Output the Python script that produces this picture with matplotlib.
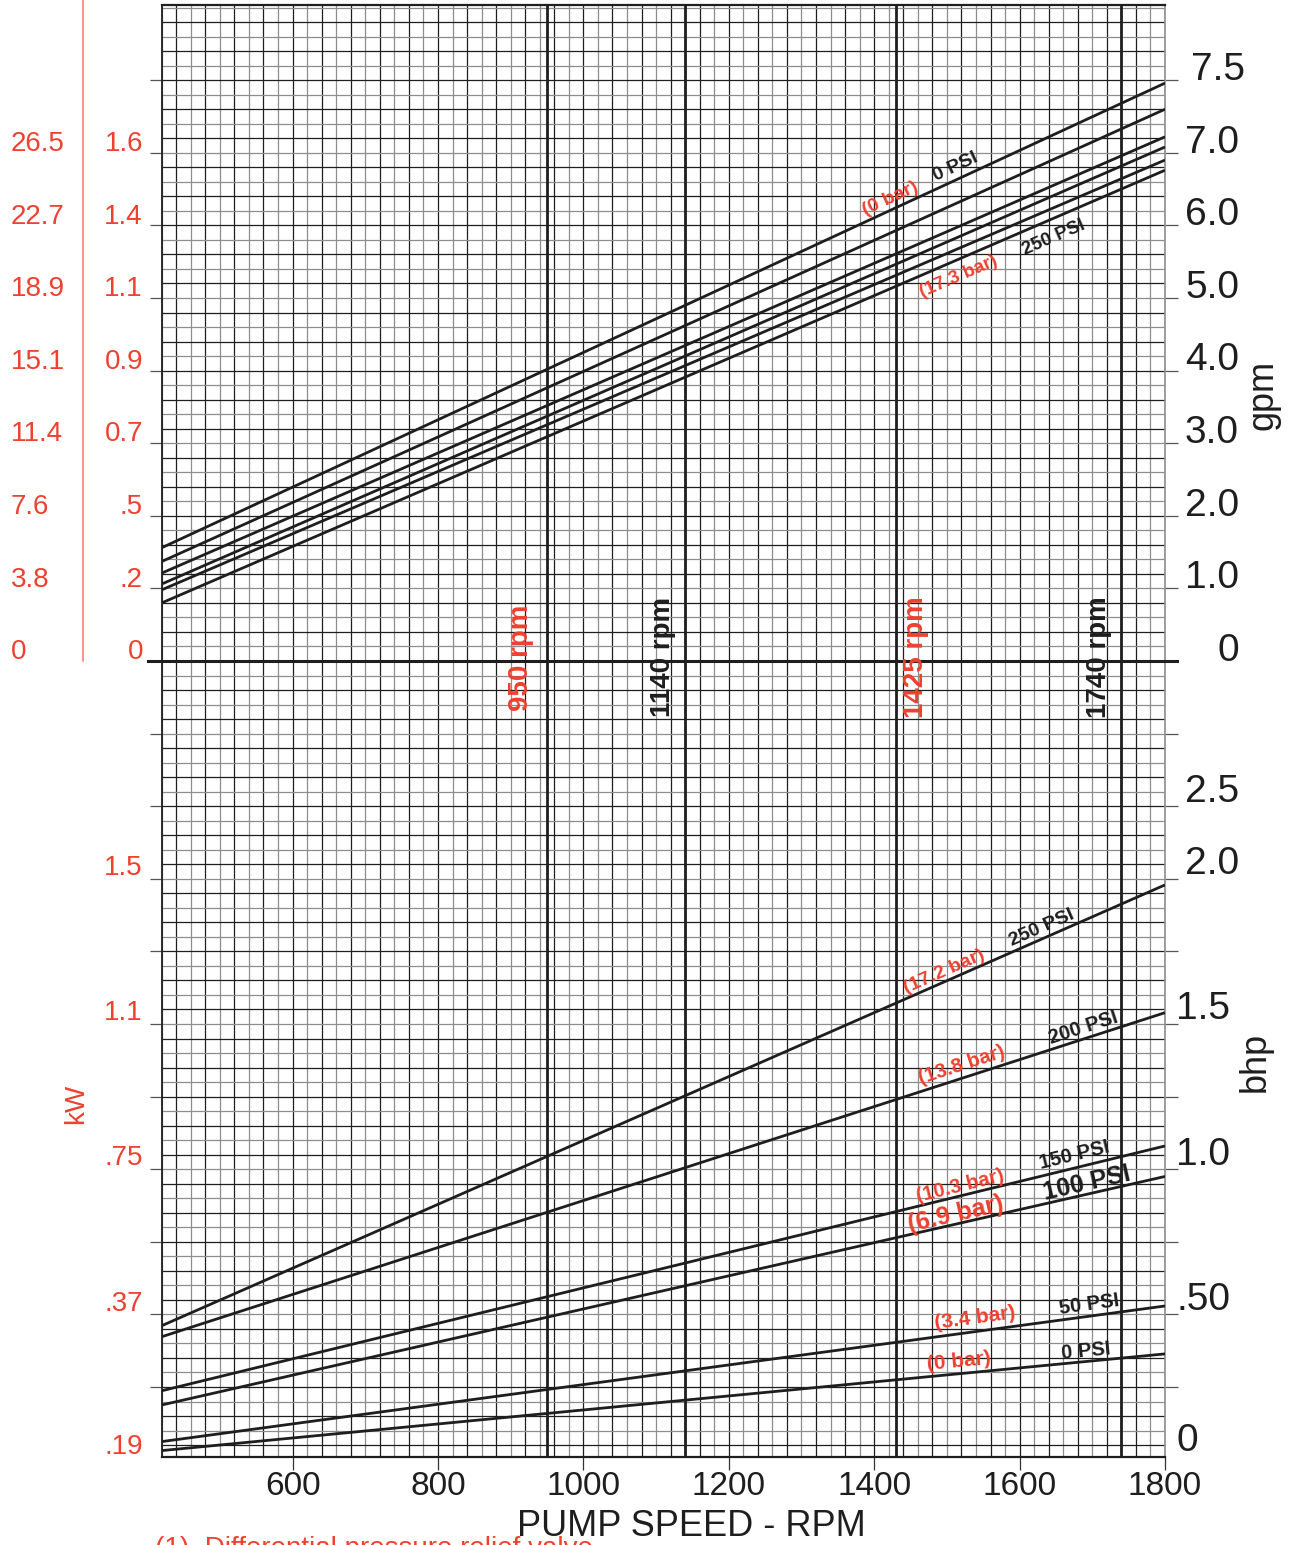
import matplotlib
matplotlib.use('Agg')
import matplotlib.pyplot as plt
import matplotlib.transforms as mtransforms
from matplotlib.lines import Line2D
import numpy as np

plt.rcParams['font.family'] = ['Liberation Sans', 'DejaVu Sans']

W, H = 1289, 1545
RED = '#ee4130'
INK = '#1e1e1e'
GREY = '#8e8e8e'

# ---------------- data ----------------
rpm_ends = [420, 1800]
# capacity lines, in chart units of the gpm scale (0 .. 7 on the major lines)
flow_0psi = [1.56, 7.96]
flow_50psi = [1.37, 7.60]
flow_100psi = [1.21, 7.22]
flow_150psi = [1.06, 7.08]
flow_200psi = [0.98, 6.90]
flow_250psi = [0.80, 6.76]
# brake horse power lines (bhp)
bhp_0psi = [0.031, 0.364]
bhp_50psi = [0.062, 0.529]
bhp_100psi = [0.188, 0.975]
bhp_150psi = [0.237, 1.080]
bhp_200psi = [0.423, 1.539]
bhp_250psi = [0.461, 1.979]

rpm_marks = [950, 1140, 1430, 1740]
rpm_mark_labels = ['950 rpm', '1140 rpm', '1425 rpm', '1740 rpm']
rpm_mark_colors = [RED, INK, RED, INK]
rpm_mark_offsets = [-26, -22, 20, -22]

x_ticks = [600, 800, 1000, 1200, 1400, 1600, 1800]
gpm_labels = ['0', '1.0', '2.0', '3.0', '4.0', '5.0', '6.0', '7.0', '7.5']
kw_top_labels = ['0', '.2', '.5', '0.7', '0.9', '1.1', '1.4', '1.6']
lpm_labels = ['0', '3.8', '7.6', '11.4', '15.1', '18.9', '22.7', '26.5']
bhp_labels = ['0', '.50', '1.0', '1.5', '2.0', '2.5']
bhp_label_units = [-11, -9, -7, -5, -3, -2]
kw_bottom_labels = ['.19', '.37', '.75', '1.1', '1.5']
kw_bottom_units = [-11, -9, -7, -5, -3]


def bhp_to_units(v):
    return [b * 4 - 11 for b in v]


# ---------------- figure ----------------
fig = plt.figure(figsize=(W / 100, H / 100), dpi=100)
L, R, T, B = 161.7, 1165, 5, 1457
ZERO_PX, MAJ = 661, 72.6
ax = fig.add_axes([L / W, 1 - B / H, (R - L) / W, (B - T) / H])
ylo, yhi = (ZERO_PX - B) / MAJ, (ZERO_PX - T) / MAJ
ax.set_xlim(420, 1800)
ax.set_ylim(ylo, yhi)

# grid
xs = np.arange(420, 1801, 20)
ax.vlines(xs, ylo, yhi, colors=[INK if x % 40 == 0 else GREY for x in xs],
          lw=0.9, zorder=1)
ys = np.round(np.arange(-10.8, 9.01, 0.2), 1)
ks = np.round(ys / 0.2).astype(int)
ax.hlines(ys, 420, 1800, colors=[INK if k % 2 == 0 else GREY for k in ks],
          lw=0.9, zorder=1)

# zero line (extends over the tick marks)
btr = mtransforms.blended_transform_factory(ax.transAxes, ax.transData)
ax.plot([-0.0135, 1.012], [0, 0], color=INK, lw=2.2, transform=btr,
        clip_on=False, zorder=3)

# rpm marker lines
ax.vlines(rpm_marks, ylo, yhi, colors=INK, lw=2.0, zorder=3)
for xv, lab, col, off in zip(rpm_marks, rpm_mark_labels, rpm_mark_colors, rpm_mark_offsets):
    ax.annotate(lab, (xv, 0.05), xytext=(off, 0), textcoords='offset pixels',
                rotation=90, ha='center', va='center', fontsize=20,
                fontweight='bold', color=col, zorder=6)

# spines and ticks
for s in ['top', 'bottom', 'left']:
    ax.spines[s].set_color(INK)
ax.spines['top'].set_linewidth(1.6)
ax.spines['bottom'].set_linewidth(1.6)
ax.spines['left'].set_linewidth(1.3)
ax.spines['right'].set_color(GREY)
ax.spines['right'].set_linewidth(1.2)

ax.set_yticks(range(-10, 9))
ax.tick_params(axis='y', left=True, right=True, direction='out', length=9,
               width=0.9, color='#555555', labelleft=False, labelright=False)
ax.set_xticks(x_ticks)
ax.set_xticklabels([str(v) for v in x_ticks], fontsize=24, color=INK)
ax.tick_params(axis='x', direction='out', length=9, width=0.9, pad=1,
               color='#333333')

# data lines
flows = [flow_0psi, flow_50psi, flow_100psi, flow_150psi, flow_200psi, flow_250psi]
bhps = [bhp_0psi, bhp_50psi, bhp_100psi, bhp_150psi, bhp_200psi, bhp_250psi]
for f in flows:
    ax.plot(rpm_ends, f, color=INK, lw=2.0, zorder=4, solid_capstyle='butt')
bhp_units = [bhp_to_units(b) for b in bhps]
for b in bhp_units:
    ax.plot(rpm_ends, b, color=INK, lw=2.0, zorder=4, solid_capstyle='butt')


def label_on_line(yv, rpm, off_px, text, color, size):
    y_at = np.interp(rpm, rpm_ends, yv)
    p0 = ax.transData.transform((rpm_ends[0], yv[0]))
    p1 = ax.transData.transform((rpm_ends[1], yv[1]))
    ang = np.degrees(np.arctan2(p1[1] - p0[1], p1[0] - p0[0]))
    ax.annotate(text, (rpm, y_at), xytext=(0, off_px), textcoords='offset pixels',
                rotation=ang, rotation_mode='anchor', ha='center', va='center',
                fontsize=size, fontweight='bold', color=color, zorder=6)


# top labels
label_on_line(flow_0psi, 1422, 12, '(0 bar)', RED, 14)
label_on_line(flow_0psi, 1512, 13, '0 PSI', INK, 14)
label_on_line(flow_250psi, 1647, -19, '250 PSI', INK, 13.5)
label_on_line(flow_250psi, 1516, -18, '(17.3 bar)', RED, 13.5)
# bottom labels
label_on_line(bhp_units[5], 1630, 11, '250 PSI', INK, 14)
label_on_line(bhp_units[5], 1497, 10, '(17.2 bar)', RED, 14)
label_on_line(bhp_units[4], 1688, 11, '200 PSI', INK, 14.5)
label_on_line(bhp_units[4], 1520, 13, '(13.8 bar)', RED, 14.5)
label_on_line(bhp_units[3], 1676, 13, '150 PSI', INK, 14.5)
label_on_line(bhp_units[3], 1519, 10, '(10.3 bar)', RED, 14.5)
label_on_line(bhp_units[2], 1692, 11, '100 PSI', INK, 18)
label_on_line(bhp_units[2], 1512, 10, '(6.9 bar)', RED, 18)
label_on_line(bhp_units[1], 1696, 12, '50 PSI', INK, 14.5)
label_on_line(bhp_units[1], 1539, 13, '(3.4 bar)', RED, 15)
label_on_line(bhp_units[0], 1692, 10, '0 PSI', INK, 14.5)
label_on_line(bhp_units[0], 1516, 12, '(0 bar)', RED, 15)

# side scales
ftr = mtransforms.blended_transform_factory(fig.transFigure, ax.transData)
for i, lab in enumerate(gpm_labels):
    fig.text((1245 if lab == '7.5' else 1239) / W, i + 0.14, lab, transform=ftr,
             ha='right', va='center', fontsize=28, color=INK)
for i, lab in enumerate(kw_top_labels):
    fig.text(143 / W, i + 0.12, lab, transform=ftr, ha='right', va='center',
             fontsize=20, color=RED)
for i, lab in enumerate(lpm_labels):
    fig.text(11 / W, i + 0.12, lab, transform=ftr, ha='left', va='center',
             fontsize=20, color=RED)
for u, lab in zip(bhp_label_units, bhp_labels):
    xpx = 1185 if u >= -3 else 1176
    yy = u + 0.2 if u > -11 else -10.74
    fig.text(xpx / W, yy, lab, transform=ftr, ha='left', va='center',
             fontsize=28, color=INK)
for u, lab in zip(kw_bottom_units, kw_bottom_labels):
    yy = u + 0.15 if u > -11 else -10.82
    fig.text(143 / W, yy, lab, transform=ftr, ha='right', va='center',
             fontsize=20, color=RED)

# axis titles
fig.text(1263 / W, 1 - 395 / H, 'gpm', rotation=90, ha='center', va='center',
         fontsize=26, color=INK)
fig.text(1255 / W, 1 - 1062 / H, 'bhp', rotation=90, ha='center', va='center',
         fontsize=26, color=INK)
fig.text(76 / W, 1 - 1104 / H, 'kW', rotation=90, ha='center', va='center',
         fontsize=20, color=RED)
fig.text(691 / W, 1 - 1527 / H, 'PUMP SPEED - RPM', ha='center', va='center',
         fontsize=26, color=INK)

# red divider between the two left scales
fig.add_artist(Line2D([83 / W, 83 / W], [1, 1 - ZERO_PX / H], color='#f07a6a', lw=1.1))

# footnote, cut by the bottom edge as in the source
fig.text(155 / W, 1 - 1536 / H, '(1)  Differential pressure relief valve', ha='left',
         va='top', fontsize=20, color=RED)

fig.savefig('out.png', dpi=100)
